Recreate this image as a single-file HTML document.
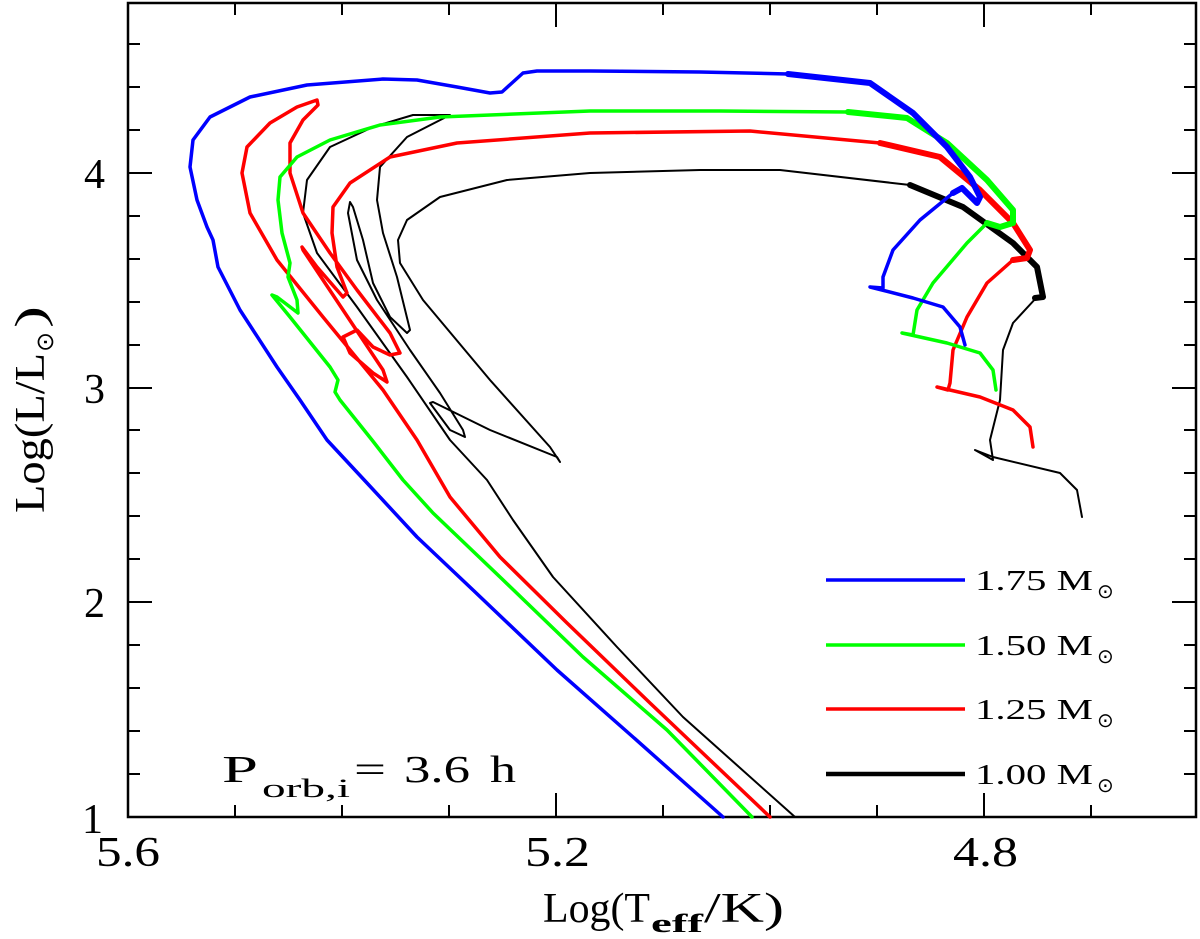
<!DOCTYPE html>
<html><head><meta charset="utf-8"><style>
html,body{margin:0;padding:0;background:#fff;}
svg{display:block;font-family:"Liberation Serif",serif;}
</style></head><body>
<svg width="1200" height="939" viewBox="0 0 1200 939" xmlns="http://www.w3.org/2000/svg">
<rect x="128" y="3" width="1068" height="814" fill="none" stroke="#000" stroke-width="2.5"/>
<g stroke="#000" stroke-width="2">
<line x1="235" y1="817" x2="235" y2="805"/><line x1="342" y1="817" x2="342" y2="805"/><line x1="449" y1="817" x2="449" y2="805"/>
<line x1="556" y1="817" x2="556" y2="793"/>
<line x1="663" y1="817" x2="663" y2="805"/><line x1="770" y1="817" x2="770" y2="805"/><line x1="877" y1="817" x2="877" y2="805"/>
<line x1="984" y1="817" x2="984" y2="793"/>
<line x1="1091" y1="817" x2="1091" y2="805"/>
<line x1="235" y1="3" x2="235" y2="15"/><line x1="342" y1="3" x2="342" y2="15"/><line x1="449" y1="3" x2="449" y2="15"/>
<line x1="556" y1="3" x2="556" y2="27"/>
<line x1="663" y1="3" x2="663" y2="15"/><line x1="770" y1="3" x2="770" y2="15"/><line x1="877" y1="3" x2="877" y2="15"/>
<line x1="984" y1="3" x2="984" y2="27"/><line x1="1091" y1="3" x2="1091" y2="15"/>
<line x1="128" y1="774" x2="140" y2="774"/><line x1="128" y1="731" x2="140" y2="731"/><line x1="128" y1="688" x2="140" y2="688"/><line x1="128" y1="645" x2="140" y2="645"/>
<line x1="128" y1="602" x2="152" y2="602"/>
<line x1="128" y1="559" x2="140" y2="559"/><line x1="128" y1="516" x2="140" y2="516"/><line x1="128" y1="473" x2="140" y2="473"/><line x1="128" y1="430" x2="140" y2="430"/>
<line x1="128" y1="388" x2="152" y2="388"/>
<line x1="128" y1="345" x2="140" y2="345"/><line x1="128" y1="302" x2="140" y2="302"/><line x1="128" y1="259" x2="140" y2="259"/><line x1="128" y1="216" x2="140" y2="216"/>
<line x1="128" y1="173" x2="152" y2="173"/>
<line x1="128" y1="130" x2="140" y2="130"/><line x1="128" y1="87" x2="140" y2="87"/><line x1="128" y1="44" x2="140" y2="44"/>
<line x1="1196" y1="774" x2="1184" y2="774"/><line x1="1196" y1="731" x2="1184" y2="731"/><line x1="1196" y1="688" x2="1184" y2="688"/><line x1="1196" y1="645" x2="1184" y2="645"/>
<line x1="1196" y1="602" x2="1172" y2="602"/>
<line x1="1196" y1="559" x2="1184" y2="559"/><line x1="1196" y1="516" x2="1184" y2="516"/><line x1="1196" y1="473" x2="1184" y2="473"/><line x1="1196" y1="430" x2="1184" y2="430"/>
<line x1="1196" y1="388" x2="1172" y2="388"/>
<line x1="1196" y1="345" x2="1184" y2="345"/><line x1="1196" y1="302" x2="1184" y2="302"/><line x1="1196" y1="259" x2="1184" y2="259"/><line x1="1196" y1="216" x2="1184" y2="216"/>
<line x1="1196" y1="173" x2="1172" y2="173"/>
<line x1="1196" y1="130" x2="1184" y2="130"/><line x1="1196" y1="87" x2="1184" y2="87"/><line x1="1196" y1="44" x2="1184" y2="44"/>
</g>
<g font-size="42" fill="#000">
<text x="96" y="866" textLength="64" lengthAdjust="spacingAndGlyphs">5.6</text>
<text x="525" y="866" textLength="65" lengthAdjust="spacingAndGlyphs">5.2</text>
<text x="953" y="866" textLength="65" lengthAdjust="spacingAndGlyphs">4.8</text>
<text x="84" y="188">4</text><text x="84" y="403">3</text><text x="84" y="617">2</text><text x="82" y="833">1</text>
<text x="543" y="922" textLength="107" lengthAdjust="spacingAndGlyphs">Log(T</text>
<text x="651" y="932" font-size="26" font-weight="bold" textLength="52" lengthAdjust="spacingAndGlyphs">eff</text>
<text x="704" y="922" textLength="80" lengthAdjust="spacingAndGlyphs">/K)</text>
<g transform="translate(44,0) rotate(-90)">
<text x="-513" y="0" textLength="160" lengthAdjust="spacingAndGlyphs">Log(L/L</text>
<text x="-352" y="9" font-size="24">⊙</text>
<text x="-328" y="0" textLength="22" lengthAdjust="spacingAndGlyphs">)</text>
</g>
</g>
<g font-size="38">
<text x="222" y="782" textLength="36" lengthAdjust="spacingAndGlyphs">P</text>
<text x="262" y="797" font-size="26" textLength="88" lengthAdjust="spacingAndGlyphs">orb,i</text>
<text x="354" y="782" textLength="32" lengthAdjust="spacingAndGlyphs">=</text>
<text x="404" y="782" textLength="66" lengthAdjust="spacingAndGlyphs">3.6</text>
<text x="490" y="782" textLength="26" lengthAdjust="spacingAndGlyphs">h</text>
</g>
<g font-size="28">
<text x="975" y="590" textLength="118" lengthAdjust="spacingAndGlyphs">1.75  M</text><text x="1097" y="598" font-size="20">⊙</text>
<text x="975" y="655" textLength="118" lengthAdjust="spacingAndGlyphs">1.50  M</text><text x="1097" y="663" font-size="20">⊙</text>
<text x="975" y="719" textLength="118" lengthAdjust="spacingAndGlyphs">1.25  M</text><text x="1097" y="727" font-size="20">⊙</text>
<text x="975" y="784" textLength="118" lengthAdjust="spacingAndGlyphs">1.00  M</text><text x="1097" y="792" font-size="20">⊙</text>
</g>
<line x1="826" y1="580" x2="965" y2="580" stroke="#0000ff" stroke-width="3.5"/>
<line x1="826" y1="645" x2="965" y2="645" stroke="#00ff00" stroke-width="3.5"/>
<line x1="826" y1="709" x2="965" y2="709" stroke="#ff0000" stroke-width="3.5"/>
<line x1="826" y1="774" x2="965" y2="774" stroke="#000" stroke-width="4.5"/>
<g fill="none" stroke-linejoin="round" stroke-linecap="round">
<g stroke="#000" stroke-width="2">
<polyline points="795,817 683,717 617,647 553,577 513,520 487,480 450,440 407,377 357,307 317,253 303,213 307,180 330,147 373,127 413,115 450,115 407,137 380,167 377,200 383,233 397,277 410,330 407,333 390,317 373,283 363,240 353,207 350,202 348,213 357,260 377,300 410,350 440,393 463,430 465,437 450,430 430,403 433,402 490,430 557,457 560,462 550,447 490,380 423,300 400,263 398,240 407,220 440,197 507,180 590,173 700,170 780,170 910,185"/>
<polyline points="1037,297 1013,323 1003,350 1000,400 990,440 993,460 975,450 993,457 1060,473 1077,490 1082,517"/>
</g>
<polyline stroke="#000" stroke-width="6" points="910,185 963,207 1013,243 1037,267 1043,297 1035,298"/>
<g stroke="#ff0000" stroke-width="3.5">
<polyline points="770,817 650,703 567,623 500,557 450,497 417,440 383,390 323,317 277,260 250,213 242,173 247,147 270,123 297,107 317,100 318,105 303,120 290,143 290,173 303,213 330,253 357,290 390,333 400,353 390,355 373,347 357,330 343,337 350,353 373,373 387,382 383,370 363,340 323,280 303,250 302,247 317,267 343,297 347,293 337,267 332,233 333,207 350,183 390,157 457,143 590,133 750,131 880,143"/>
<polyline points="1013,260 987,283 967,317 953,350 950,383 948,390 937,387 980,397 1013,410 1030,427 1033,447"/>
</g>
<polyline stroke="#ff0000" stroke-width="6" points="880,143 940,157 980,190 1013,223 1030,250 1027,258 1013,260"/>
<g stroke="#00ff00" stroke-width="3.5">
<polyline points="752,817 667,730 583,657 500,577 433,513 403,480 372,440 340,400 335,392 338,380 330,367 290,317 272,295 277,297 298,313 297,300 288,277 290,263 282,233 278,200 280,177 297,157 330,140 380,125 440,117 590,111 720,111 848,112"/>
<polyline points="987,223 967,243 933,283 917,310 913,335 902,333 947,343 980,353 993,370 996,390"/>
</g>
<polyline stroke="#00ff00" stroke-width="6" points="848,112 907,118 947,143 987,180 1013,210 1013,223 1000,227 987,223"/>
<g stroke="#0000ff" stroke-width="3.5">
<polyline points="723,817 633,737 557,670 473,590 417,537 367,483 327,440 300,400 277,367 240,310 218,267 213,240 207,227 197,200 190,167 193,140 210,117 250,97 307,85 383,79 417,80 457,87 490,93 502,92 523,73 537,71 590,71 700,72 788,74"/>
<polyline points="953,193 920,220 893,250 883,277 883,288 870,287 913,298 943,307 960,327 965,345"/>
</g>
<polyline stroke="#0000ff" stroke-width="6" points="788,74 870,83 913,113 947,147 970,177 980,197 977,203 967,193 962,188 953,193"/>
</g>
</svg>
</body></html>
